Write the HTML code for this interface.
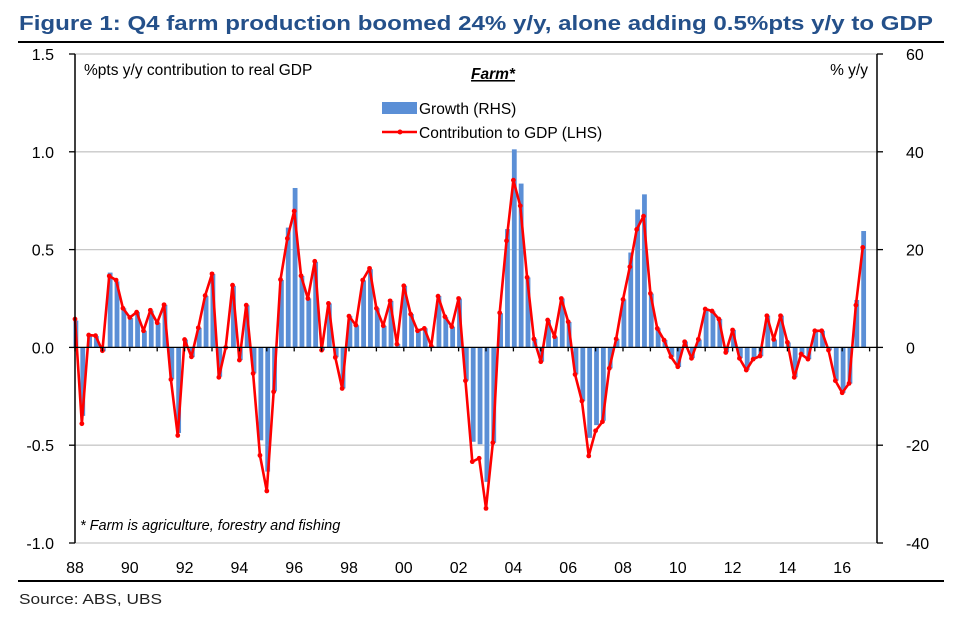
<!DOCTYPE html>
<html><head><meta charset="utf-8"><style>
body{margin:0;background:#fff;width:954px;height:617px;overflow:hidden;font-family:"Liberation Sans",sans-serif}
svg{display:block}
</style></head><body>
<svg id="chart" width="954" height="617" xmlns="http://www.w3.org/2000/svg" font-family="Liberation Sans, sans-serif">
<text x="19" y="30" font-size="20" font-weight="bold" fill="#24508a" textLength="914" lengthAdjust="spacingAndGlyphs">Figure 1: Q4 farm production boomed 24% y/y, alone adding 0.5%pts y/y to GDP</text>
<rect x="18" y="41" width="926" height="2" fill="#000"/>
<rect x="18" y="580" width="926" height="2" fill="#000"/>
<text x="19" y="604" font-size="15" fill="#222" textLength="143" lengthAdjust="spacingAndGlyphs">Source:  ABS, UBS</text>
<g id="grid"></g>
<g id="bars"></g>
<g id="line"></g>
<g id="axes"></g>
<text x="84" y="75" font-size="15.5" fill="#000">%pts y/y contribution to real GDP</text>
<text x="868" y="75" font-size="15.5" fill="#000" text-anchor="end">% y/y</text>
<text x="493" y="79" font-size="15.5" font-weight="bold" font-style="italic" text-anchor="middle" text-decoration="underline">Farm*</text>
<rect x="382" y="102" width="35" height="12" fill="#5b8fd6"/>
<text x="419" y="114" font-size="15.5">Growth (RHS)</text>
<line x1="382" y1="132" x2="417" y2="132" stroke="#f00" stroke-width="2.5"/>
<circle cx="400" cy="132" r="2.5" fill="#f00"/>
<text x="419" y="138" font-size="15.5">Contribution to GDP (LHS)</text>
<text x="80" y="530" font-size="14.5" font-style="italic">* Farm is agriculture, forestry and fishing</text>
</svg>
<script>
const startYear = 1988;
const contribution = [0.145,-0.39,0.063,0.06,-0.017,0.365,0.344,0.2,0.153,0.18,0.085,0.19,0.126,0.218,-0.164,-0.45,0.04,-0.048,0.1,0.265,0.376,-0.153,0,0.318,-0.065,0.216,-0.133,-0.552,-0.734,-0.227,0.347,0.557,0.697,0.366,0.25,0.44,-0.014,0.225,-0.051,-0.21,0.16,0.114,0.344,0.404,0.2,0.111,0.238,0.017,0.315,0.17,0.085,0.097,0.007,0.262,0.157,0.106,0.25,-0.17,-0.584,-0.567,-0.823,-0.487,0.177,0.545,0.855,0.724,0.358,0.043,-0.073,0.14,0.055,0.25,0.131,-0.138,-0.274,-0.555,-0.426,-0.38,-0.107,0.043,0.245,0.412,0.603,0.671,0.276,0.097,0.037,-0.048,-0.099,0.029,-0.056,0.041,0.196,0.186,0.145,-0.026,0.089,-0.056,-0.116,-0.06,-0.044,0.162,0.041,0.162,0.026,-0.153,-0.034,-0.06,0.085,0.085,-0.014,-0.17,-0.232,-0.184,0.216,0.511];
const growth = [5.5,-14,2.4,2.3,-0.8,15.3,13.5,8,6,7.2,3.4,7.5,5,8.7,-6.5,-17.5,1.6,-2,4,10.5,15,-6,0,12.6,-2.6,8.6,-5.3,-19,-25.4,-9,13.8,24.5,32.6,14.6,10,17.5,-0.6,9,-2,-8.4,6.4,4.5,13.7,16,8,4.4,9.5,0.7,12.6,6.8,3.4,3.9,0.3,10.5,6.2,4.2,10,-6.8,-19.3,-19.8,-27.5,-19.5,7,24.2,40.5,33.5,14.3,1.7,-2.9,5.6,2.2,10,5.2,-5.5,-11,-18.5,-15.9,-15,-4.3,1.7,9.8,19.4,28.2,31.3,11,3.9,1.5,-1.9,-4,1.2,-2.2,1.6,7.8,7.4,5.8,-1,3.6,-2.2,-4.6,-2.4,-1.8,6.5,1.6,6.5,1,-6.1,-1.4,-2.4,3.4,3.4,-0.6,-6.8,-9.3,-7.4,9.7,23.8];
const leftTicks = ["1.5","1.0","0.5","0.0","-0.5","-1.0"];
const rightTicks = ["60","40","20","0","-20","-40"];
const xLabels = ["88","90","92","94","96","98","00","02","04","06","08","10","12","14","16"];

const NS="http://www.w3.org/2000/svg";
const X0=75, X1=877, QW=6.85, YT=54, YB=543;
const yL=v=>YT+(1.5-v)/2.5*(YB-YT);
const yR=v=>YT+(60-v)/100*(YB-YT);
const xQ=i=>X0+i*QW;
function mk(tag,attrs,parent){const e=document.createElementNS(NS,tag);for(const k in attrs)e.setAttribute(k,attrs[k]);parent.appendChild(e);return e;}
const grid=document.getElementById('grid'),bars=document.getElementById('bars'),line=document.getElementById('line'),axes=document.getElementById('axes');
leftTicks.forEach((t,k)=>{
  const v=parseFloat(t),y=yL(v);
  if(v!==0){const g=mk('line',{x1:X0,x2:X1,y1:y,y2:y,stroke:'#c8c8c8','stroke-width':1.3},grid);
  
  }
  const tl=mk('text',{x:54,y:y+6,'font-size':16,'text-anchor':'end'},axes);tl.textContent=t;
  
  
  mk('line',{x1:X0-6,x2:X0,y1:y,y2:y,stroke:'#000','stroke-width':1.3},axes);
});
rightTicks.forEach(t=>{
  const y=yR(parseFloat(t));
  const tl=mk('text',{x:906,y:y+6,'font-size':16},axes);tl.textContent=t;
  
  
  mk('line',{x1:X1,x2:X1+6,y1:y,y2:y,stroke:'#000','stroke-width':1.3},axes);
});
growth.forEach((v,i)=>{
  const y0=yR(0),y=yR(v);
  const b=mk('rect',{x:xQ(i)-1.5,y:Math.min(y,y0),width:4.8,height:Math.abs(y-y0),fill:'#5b8fd6'},bars);
  
  
});
const z=yL(0);
mk('line',{x1:X0,x2:X1,y1:z,y2:z,stroke:'#000','stroke-width':1.3},axes);
for(let yr=0;yr<=29;yr++){const x=X0+yr*4*QW;mk('line',{x1:x,x2:x,y1:z,y2:z+4,stroke:'#000','stroke-width':1.3},axes);}
xLabels.forEach((t,k)=>{
  const tl=mk('text',{x:X0+k*8*QW,y:573,'font-size':16,'text-anchor':'middle'},axes);tl.textContent=t;
  
  
});
mk('line',{x1:X0,x2:X0,y1:YT,y2:YB,stroke:'#000','stroke-width':1.5},axes);
mk('line',{x1:X1,x2:X1,y1:YT,y2:YB,stroke:'#000','stroke-width':1.5},axes);
const pts=contribution.map((v,i)=>xQ(i)+','+yL(v)).join(' ');
const pl=mk('polyline',{points:pts,fill:'none',stroke:'#f00','stroke-width':2.6,'stroke-linejoin':'round'},line);


contribution.forEach((v,i)=>{
  const c=mk('circle',{cx:xQ(i),cy:yL(v),r:2.4,fill:'#f00'},line);
  
  
});
</script>
</body></html>
